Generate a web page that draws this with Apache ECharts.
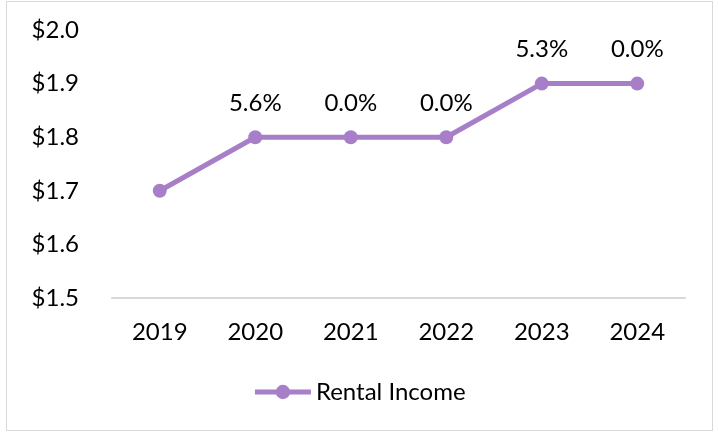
<!DOCTYPE html>
<html>
<head>
<meta charset="utf-8">
<script src="https://cdn.jsdelivr.net/npm/echarts@6/dist/echarts.min.js"></script>
<style>
    html, body { margin: 0; padding: 0; background: #fff; }
    #frame {
        position: absolute;
        left: 6px;
        top: 1px;
        width: 705px;
        height: 428px;
        border: 1px solid #D9D9D9;
    }
    #chart { position: absolute; left: 0; top: 0; width: 718px; height: 434px; }
</style>
</head>
<body>
<div id="frame"></div>
<div id="chart"></div>
<script>
// 年份
const years = ['2019', '2020', '2021', '2022', '2023', '2024'];
// 租金收入 ($)
const rentalIncome = [1.7, 1.8, 1.8, 1.8, 1.9, 1.9];
// 同比增长标签
const growthLabels = ['', '5.6%', '0.0%', '0.0%', '5.3%', '0.0%'];
const seriesName = 'Rental Income';

const LINE_COLOR = '#A77FC8';
const FONT = 'Lato, "Open Sans", sans-serif';
const FONT_SIZE = 24;

const chart = echarts.init(document.getElementById('chart'));
chart.setOption({
    animation: false,
    textStyle: { fontFamily: FONT },
    grid: {
        left: 112,
        right: 33,
        top: 30,
        bottom: 136
    },
    legend: {
        data: [seriesName],
        bottom: 25,
        left: 'center',
        itemWidth: 56,
        itemHeight: 18,
        itemGap: 4,
        lineStyle: { width: 5 },
        textStyle: { fontSize: FONT_SIZE, color: '#000', fontFamily: FONT }
    },
    xAxis: {
        type: 'category',
        data: years,
        boundaryGap: true,
        axisLine: { lineStyle: { color: '#D9D9D9', width: 2 } },
        axisTick: { show: false },
        axisLabel: { color: '#000', fontSize: FONT_SIZE, margin: 22, fontFamily: FONT }
    },
    yAxis: {
        type: 'value',
        min: 1.5,
        max: 2.0,
        interval: 0.1,
        axisLine: { show: false },
        axisTick: { show: false },
        splitLine: { show: false },
        axisLabel: {
            color: '#000',
            fontSize: FONT_SIZE,
            margin: 33,
            fontFamily: FONT,
            formatter: v => '$' + v.toFixed(1)
        }
    },
    series: [{
        name: seriesName,
        type: 'line',
        data: rentalIncome,
        symbol: 'circle',
        symbolSize: 14,
        lineStyle: { color: LINE_COLOR, width: 5 },
        itemStyle: { color: LINE_COLOR },
        label: {
            show: true,
            position: 'top',
            distance: 15,
            color: '#000',
            fontSize: FONT_SIZE,
            fontFamily: FONT,
            formatter: p => growthLabels[p.dataIndex]
        }
    }]
});
</script>
</body>
</html>
